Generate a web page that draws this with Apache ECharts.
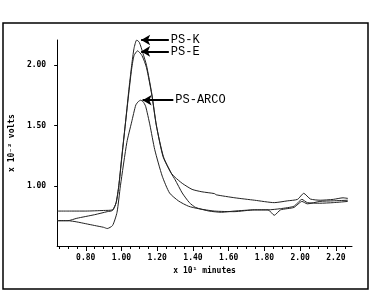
<!DOCTYPE html>
<html>
<head>
<meta charset="utf-8">
<script src="https://cdn.jsdelivr.net/npm/echarts@6/dist/echarts.min.js"></script>
<style>
  html, body { margin: 0; padding: 0; background: #fff; }
  #main { width: 371px; height: 292px; }
</style>
</head>
<body>
<div id="main"></div>
<script>
// x 10^1 minutes / x 10^-2 volts
var kTime  = [0.64, 0.70, 0.80, 0.90, 0.95, 0.97, 0.985, 1.00, 1.021, 1.04, 1.057, 1.07, 1.085, 1.10, 1.12, 1.14, 1.17, 1.195, 1.232, 1.277, 1.30, 1.34, 1.395, 1.45, 1.52, 1.53, 1.635, 1.745, 1.855, 1.93, 1.985, 2.02, 2.057, 2.112, 2.185, 2.24, 2.267];
var kVolts = [0.79, 0.79, 0.79, 0.795, 0.80, 0.86, 1.00, 1.22, 1.505, 1.78, 2.00, 2.14, 2.21, 2.19, 2.10, 2.00, 1.76, 1.505, 1.244, 1.107, 1.07, 1.02, 0.97, 0.95, 0.935, 0.925, 0.90, 0.88, 0.86, 0.875, 0.887, 0.937, 0.89, 0.88, 0.887, 0.90, 0.895];

var eTime  = [0.64, 0.70, 0.75, 0.85, 0.92, 0.95, 0.97, 0.985, 1.02, 1.055, 1.07, 1.09, 1.115, 1.14, 1.17, 1.195, 1.235, 1.28, 1.30, 1.34, 1.38, 1.415, 1.49, 1.56, 1.63, 1.745, 1.82, 1.89, 1.965, 2.01, 2.04, 2.11, 2.185, 2.267];
var eVolts = [0.71, 0.71, 0.73, 0.76, 0.785, 0.795, 0.86, 1.00, 1.49, 1.95, 2.08, 2.12, 2.08, 1.98, 1.75, 1.50, 1.24, 1.10, 1.05, 0.94, 0.86, 0.82, 0.79, 0.78, 0.79, 0.80, 0.80, 0.81, 0.83, 0.887, 0.86, 0.855, 0.86, 0.87];

var aTime  = [0.64, 0.70, 0.75, 0.80, 0.85, 0.90, 0.92, 0.95, 0.975, 0.994, 1.03, 1.057, 1.08, 1.095, 1.107, 1.12, 1.135, 1.159, 1.186, 1.228, 1.269, 1.32, 1.375, 1.43, 1.52, 1.63, 1.745, 1.82, 1.855, 1.89, 1.965, 2.01, 2.04, 2.11, 2.185, 2.267];
var aVolts = [0.71, 0.71, 0.70, 0.685, 0.67, 0.655, 0.645, 0.67, 0.78, 1.00, 1.36, 1.53, 1.67, 1.70, 1.71, 1.70, 1.66, 1.505, 1.30, 1.08, 0.94, 0.873, 0.83, 0.81, 0.79, 0.785, 0.80, 0.80, 0.755, 0.80, 0.82, 0.87, 0.85, 0.87, 0.875, 0.88];

var xTicks = [0.80, 1.00, 1.20, 1.40, 1.60, 1.80, 2.00, 2.20];
var xMinorTicks = [0.65, 0.70, 0.75, 0.80, 0.85, 0.90, 0.95, 1.00, 1.05, 1.10, 1.15, 1.20, 1.25, 1.30, 1.35, 1.40, 1.45, 1.50, 1.55, 1.60, 1.65, 1.70, 1.75, 1.80, 1.85, 1.90, 1.95, 2.00, 2.05, 2.10, 2.15, 2.20, 2.25];
var yTicks = [1.00, 1.50, 2.00];

// arrow labels: [name, tail x, head x, y]
var callouts = [['PS-K', 1.265, 1.11, 2.21], ['PS-E', 1.265, 1.11, 2.115], ['PS-ARCO', 1.29, 1.118, 1.71]];

function zip(xs, ys) {
  return xs.map(function (x, i) { return [x, ys[i]]; });
}

var chart = echarts.init(document.getElementById('main'));
var mono = 'DejaVu Sans Mono';

function curve(name, data, idx) {
  var c = callouts[idx];
  return {
    name: name,
    type: 'line',
    data: data,
    smooth: 0.2,
    symbol: 'none',
    lineStyle: { color: '#222', width: 1 },
    markLine: {
      silent: true,
      symbol: ['none', 'arrow'],
      symbolSize: [8, 9],
      lineStyle: { color: '#000', width: 2, type: 'solid' },
      label: {
        show: true, position: 'start', formatter: c[0],
        fontFamily: 'Liberation Mono', fontSize: 12, color: '#000', distance: 2
      },
      data: [[{ coord: [c[1], c[3]] }, { coord: [c[2], c[3]] }]]
    }
  };
}

chart.setOption({
  animation: false,
  backgroundColor: '#fff',
  graphic: [{
    type: 'rect',
    shape: { x: 3, y: 23, width: 365, height: 266 },
    style: { fill: 'none', stroke: '#000', lineWidth: 1.5 }
  }],
  grid: { left: 53, right: 19, top: 40, bottom: 46 },
  xAxis: [{
    type: 'value', min: 0.64, max: 2.29,
    name: 'x 10\u00b9 minutes', nameLocation: 'middle', nameGap: 21,
    nameTextStyle: { fontFamily: mono, fontSize: 8, fontWeight: 'bold', color: '#000' },
    axisLine: { lineStyle: { color: '#000', width: 1 } },
    axisTick: { customValues: xTicks, length: 5, lineStyle: { color: '#000' } },
    axisLabel: {
      customValues: xTicks, margin: 8,
      formatter: function (v) { return v.toFixed(2); },
      fontFamily: mono, fontSize: 8, fontWeight: 'bold', color: '#000'
    },
    splitLine: { show: false }
  }, {
    type: 'value', min: 0.64, max: 2.29, position: 'bottom',
    axisLine: { show: false },
    axisTick: { customValues: xMinorTicks, length: 3, lineStyle: { color: '#000' } },
    axisLabel: { show: false },
    splitLine: { show: false }
  }],
  yAxis: {
    type: 'value', min: 0.5, max: 2.21,
    name: 'x 10\u207b\u00b2 volts', nameLocation: 'middle', nameGap: 33, nameRotate: 90,
    nameTextStyle: { fontFamily: mono, fontSize: 8, fontWeight: 'bold', color: '#000' },
    axisLine: { show: true, lineStyle: { color: '#000', width: 1 } },
    axisTick: { show: true, customValues: yTicks, length: 3, lineStyle: { color: '#000' } },
    axisLabel: {
      customValues: yTicks, margin: 11,
      formatter: function (v) { return v.toFixed(2); },
      fontFamily: mono, fontSize: 8, fontWeight: 'bold', color: '#000'
    },
    splitLine: { show: false }
  },
  series: [
    curve('PS-K', zip(kTime, kVolts), 0),
    curve('PS-E', zip(eTime, eVolts), 1),
    curve('PS-ARCO', zip(aTime, aVolts), 2)
  ]
});
</script>
</body>
</html>
